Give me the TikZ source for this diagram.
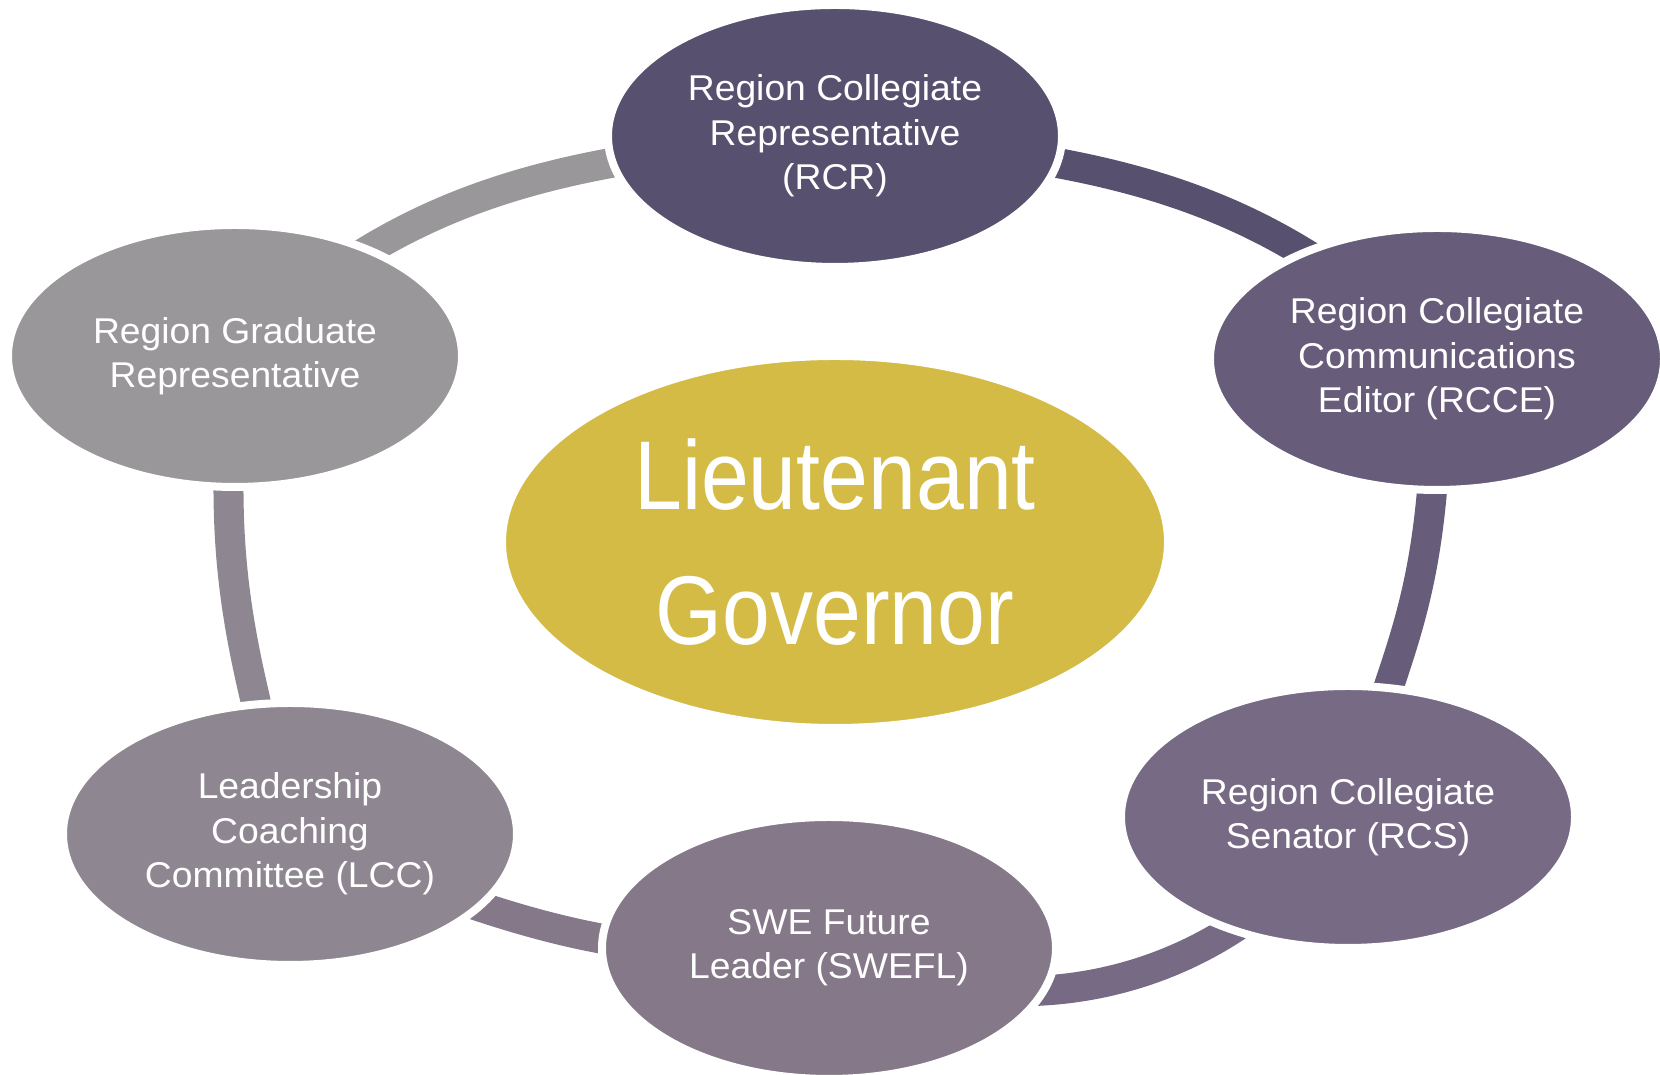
\documentclass[tikz,border=0pt]{standalone}
\usepackage{fontspec}
\setmainfont{Liberation Sans}
\newfontfamily\rolefont{Liberation Sans}[FakeStretch=1.04]
\newfontfamily\ltgfont{Liberation Sans}[FakeStretch=0.88]
\usetikzlibrary{shapes.geometric,backgrounds}

\definecolor{rcrcol}{HTML}{58506F}
\definecolor{rccecol}{HTML}{675C7A}
\definecolor{rcscol}{HTML}{776A84}
\definecolor{sweflcol}{HTML}{857889}
\definecolor{lcccol}{HTML}{8E8791}
\definecolor{rgrcol}{HTML}{999799}
\definecolor{ltgcol}{HTML}{D4BB45}

\tikzset{
	role/.style={ellipse, draw=white, line width=0.8mm, fill=#1, inner sep=0pt,
		minimum width=4.54cm, minimum height=2.62cm, text=white, align=center,
		font=\rolefont\fontsize{10.2}{12.6}\selectfont},
	cyclearc/.style={draw=#1, line width=3mm},
}

\begin{document}
\begin{tikzpicture}
		%%%%% START %%%%%
		\useasboundingbox (0, 0) rectangle (16.6, 10.75);
		
		\node[role=ltgcol, minimum width=6.66cm, minimum height=3.72cm,
			font=\ltgfont\fontsize{27.8}{38.6}\selectfont] (ltg) at (8.35, 5.33) {Lieutenant\\Governor};
		
		\node[role=rcrcol] (rcr) at (8.35, 9.39) {Region Collegiate\\Representative\\(RCR)};
		\node[role=rccecol] (rcce) at (14.37, 7.16) {Region Collegiate\\Communications\\Editor (RCCE)};
		\node[role=rcscol] (rcs) at (13.48, 2.58) {Region Collegiate\\Senator (RCS)};
		\node[role=sweflcol] (swefl) at (8.29, 1.27) {SWE Future\\Leader (SWEFL)};
		\node[role=lcccol] (lcc) at (2.90, 2.41) {Leadership\\Coaching\\Committee (LCC)};
		\node[role=rgrcol] (rgr) at (2.35, 7.19) {Region Graduate\\Representative};
		
		\begin{scope}[on background layer]
			\draw[cyclearc=rgrcol] (rgr.center) to[out=45, in=185] (rcr.center);
			\draw[cyclearc=rcrcol] (rcr.center) to[out=-5, in=135] (rcce.center);
			\draw[cyclearc=rccecol] (rcce.center) to[out=-90, in=75, out looseness=1.4] (rcs.center);
			\draw[cyclearc=rcscol] (rcs.center) to[out=235, in=-25] (swefl.center);
			\draw[cyclearc=sweflcol] (swefl.center) to[out=185, in=-22] (lcc.center);
			\draw[cyclearc=lcccol] (lcc.center) to[out=105, in=-95, looseness=1.1] (rgr.center);
		\end{scope}
		%%%%% END %%%%%
\end{tikzpicture}
\end{document}
